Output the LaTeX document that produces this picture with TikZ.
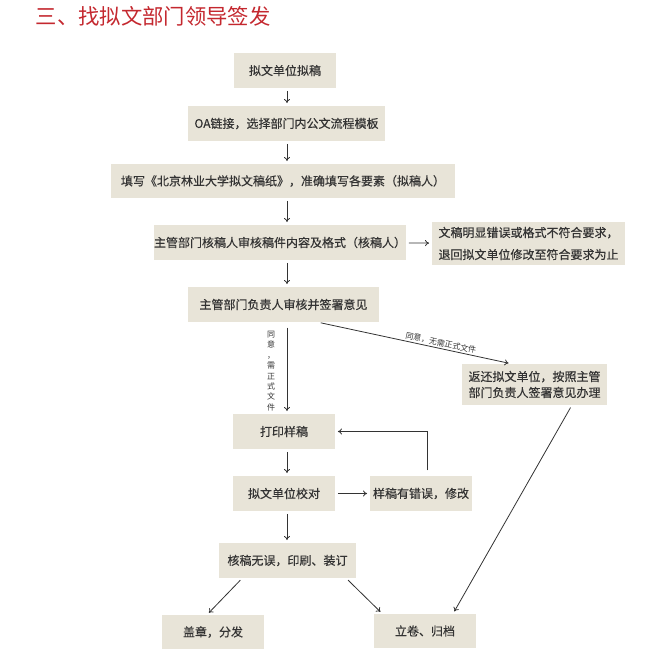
\documentclass[tikz,border=0pt]{standalone}
\usepackage{fontspec}
\setmainfont{Noto Sans CJK SC}
\newfontfamily\boxfont[FakeBold=0.4]{Noto Sans CJK SC}
\usetikzlibrary{arrows.meta}
\definecolor{titlered}{HTML}{C4282F}
\definecolor{paper}{HTML}{E8E4D8}
\definecolor{ink}{HTML}{333333}

\begin{document}
\begin{tikzpicture}[x=0.75pt,y=-0.75pt,
  box/.style 2 args={fill=paper,text=ink,font=\boxfont\fontsize{9}{15}\selectfont,align=center,
    inner sep=0pt,minimum width=#1*0.75pt,minimum height=#2*0.75pt},
  arr/.style={draw=ink,line width=0.6pt,-{To[length=3pt,width=4.5pt]},shorten <=2pt,shorten >=2pt},
  tag/.style={text=ink,font=\fontsize{6}{7.8}\selectfont,align=center,inner sep=1pt}]

\useasboundingbox (0,0) rectangle (660,659);

% Title
\node[anchor=west,text=titlered,font=\fontsize{16}{18}\selectfont] (title) at (31,16) {三、找拟文部门领导签发};

% Steps
\node[box={102}{35}] (b1) at (285,70.5) {拟文单位拟稿};
\node[box={197}{35}] (b2) at (286.5,123.5) {OA链接，选择部门内公文流程模板};
\node[box={344}{34}] (b3) at (283,181) {填写《北京林业大学拟文稿纸》，准确填写各要素（拟稿人）};
\node[box={250}{35}] (b4) at (280,242.5) {主管部门核稿人审核稿件内容及格式（核稿人）};
\node[box={193}{43},font=\boxfont\fontsize{9}{16.5}\selectfont] (b5) at (528.5,243.5) {文稿明显错误或格式不符合要求，\\退回拟文单位修改至符合要求为止};
\node[box={191}{35}] (b6) at (283.5,304.5) {主管部门负责人审核并签署意见};
\node[box={145}{41},font=\boxfont\fontsize{9}{12}\selectfont] (b8) at (534.5,384.5) {返还拟文单位，按照主管\\部门负责人签署意见办理};
\node[box={102}{35}] (b7) at (284,431.5) {打印样稿};
\node[box={102}{35}] (b9) at (284,493.5) {拟文单位校对};
\node[box={102}{35}] (b10) at (421,493.5) {样稿有错误，修改};
\node[box={137}{35}] (b11) at (287.5,560.5) {核稿无误，印刷、装订};
\node[box={102}{34}] (b12) at (213,632) {盖章，分发};
\node[box={102}{34}] (b13) at (425,631) {立卷、归档};

% Main column of arrows
\coordinate (spine) at (287,0);
\foreach \a/\b in {b1/b2,b2/b3,b3/b4,b4/b6,b7/b9,b9/b11}
  \draw[arr] (\a.south -| spine) -- (\b.north -| spine);
\draw[arr,shorten <=4pt] (b6.south -| spine) -- (b7.north -| spine);
\node[tag] (yes1) at (271,371) {同\\意\\，\\需\\正\\式\\文\\件};

% Side branches
\draw[arr] (b4) -- (b5);
\draw[arr] ([xshift=26pt]b6.south) -- ([xshift=-17.5pt]b8.north)
  node[tag,pos=0.63,above,sloped] (yes2) {同意，无需正式文件};
\draw[arr] (b9) -- (b10);
\draw[arr,shorten <=4pt] ([xshift=4.5pt]b10.north) |- (b7.east);
\draw[arr] ([xshift=-34pt]b11.south) -- ([xshift=-4.5pt]b12.north);
\draw[arr] ([xshift=44pt]b11.south) -- ([xshift=-32pt]b13.north);
\draw[arr] ([xshift=28pt]b8.south) -- ([xshift=21pt]b13.north);

\end{tikzpicture}
\end{document}
